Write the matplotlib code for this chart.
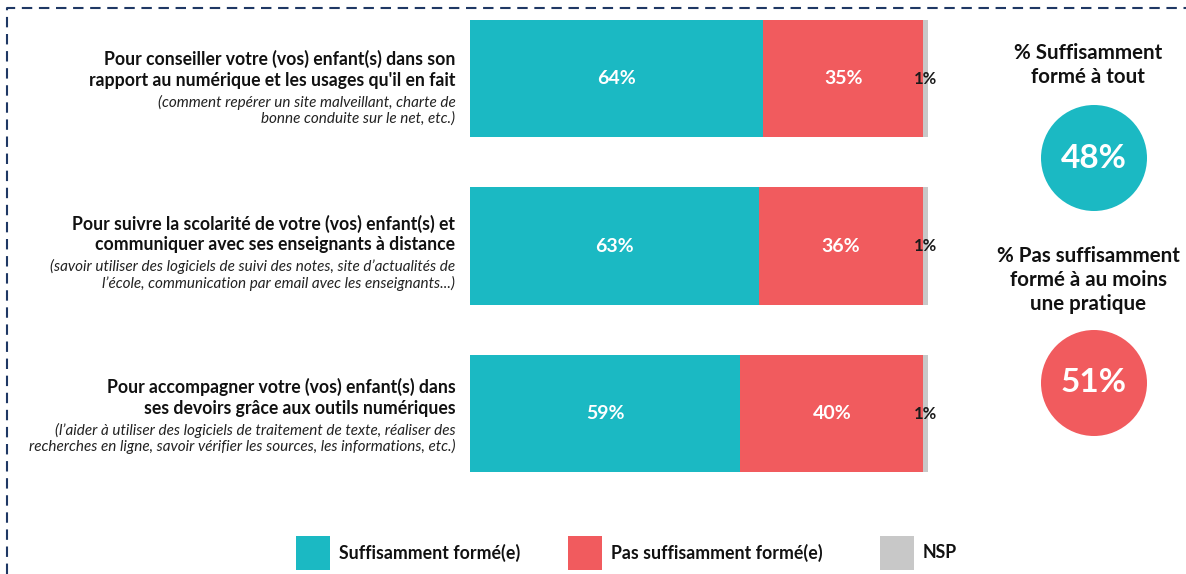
import numpy as np
import matplotlib
matplotlib.use("Agg")
from matplotlib import pyplot as plt
from matplotlib.patches import Circle, Rectangle
from matplotlib.lines import Line2D

plt.rcParams["font.family"] = ["Lato", "DejaVu Sans"]

# data
titles = [
    "Pour conseiller votre (vos) enfant(s) dans son\nrapport au numérique et les usages qu'il en fait",
    "Pour suivre la scolarité de votre (vos) enfant(s) et\ncommuniquer avec ses enseignants à distance",
    "Pour accompagner votre (vos) enfant(s) dans\nses devoirs grâce aux outils numériques",
]
subtitles = [
    "(comment repérer un site malveillant, charte de\nbonne conduite sur le net, etc.)",
    "(savoir utiliser des logiciels de suivi des notes, site d’actualités de\nl’école, communication par email avec les enseignants...)",
    "(l’aider à utiliser des logiciels de traitement de texte, réaliser des\nrecherches en ligne, savoir vérifier les sources, les informations, etc.)",
]
suffisant = [64, 63, 59]
pas_suffisant = [35, 36, 40]
nsp = [1, 1, 1]
series_names = ["Suffisamment formé(e)", "Pas suffisamment formé(e)", "NSP"]
kpi_labels = ["% Suffisamment\nformé à tout", "% Pas suffisamment\nformé à au moins\nune pratique"]
kpi_values = [48, 51]

TEAL = "#1BB9C3"
RED = "#F15B5E"
GREY = "#C8C8C8"
NAVY = "#1F3864"
colors = [TEAL, RED, GREY]

W, H = 1186, 574
fig = plt.figure(figsize=(W / 100, H / 100), dpi=100)

# bar axes: spans the full height, y in category units
ax = fig.add_axes([470 / W, 0, 458 / W, 1])
ypos = np.arange(len(titles))
ax.set_xlim(0, 100)
ax.set_ylim(2.958, -0.469)
ax.axis("off")

left = np.zeros(len(titles))
for vals, col in zip([suffisant, pas_suffisant, nsp], colors):
    ax.barh(ypos, vals, left=left, height=0.70, color=col, edgecolor="none")
    left = left + np.array(vals)

# small vertical nudges of the label blocks (category units)
label_shift = [0.024, 0.006, -0.018]
for i in range(len(titles)):
    ax.text(suffisant[i] / 2, ypos[i], f"{suffisant[i]}%", ha="center", va="center",
            color="white", fontsize=14, fontweight="bold")
    ax.text(suffisant[i] + pas_suffisant[i] / 2, ypos[i], f"{pas_suffisant[i]}%",
            ha="center", va="center", color="white", fontsize=14, fontweight="bold")
    ax.text(99.4, ypos[i], f"{nsp[i]}%", ha="center", va="center",
            color="#1a1a1a", fontsize=12, fontweight="bold")
    ax.text(-3.2, ypos[i] - 0.078 + label_shift[i], titles[i], ha="right", va="center",
            fontsize=12.7, fontweight="bold", color="#111111", linespacing=1.25,
            clip_on=False)
    ax.text(-3.2, ypos[i] + 0.167 + label_shift[i], subtitles[i], ha="right", va="center",
            fontsize=11, style="italic", color="#222222", linespacing=1.15,
            clip_on=False)

# overlay axes in pixel coords for border, KPI circles and legend
ov = fig.add_axes([0, 0, 1, 1], zorder=-1)
ov.set_xlim(0, W)
ov.set_ylim(H, 0)
ov.axis("off")

ov.add_line(Line2D([7, 7, W], [H, 8, 8], color=NAVY, lw=1.5,
                   linestyle=(0, (5, 3.2))))

kpi_text_y = [65, 280]
kpi_circle_y = [158, 383]
for lab, val, ty, cy, col in zip(kpi_labels, kpi_values, kpi_text_y, kpi_circle_y, [TEAL, RED]):
    ov.text(1088, ty, lab, ha="center", va="center", fontsize=14.8,
            fontweight="bold", color="#111111", linespacing=1.27)
    ov.add_patch(Circle((1094, cy), 53, color=col, ec="none"))
    ov.text(1094, cy, f"{val}%", ha="center", va="center", fontsize=24,
            fontweight="bold", color="white")

leg_x = [296, 568, 880]
for name, col, lx in zip(series_names, colors, leg_x):
    ov.add_patch(Rectangle((lx, 536), 34, 34, color=col, ec="none"))
    ov.text(lx + 43, 553, name, ha="left", va="center", fontsize=12.8,
            fontweight="bold", color="#111111")

fig.savefig("out.png", dpi=100)
